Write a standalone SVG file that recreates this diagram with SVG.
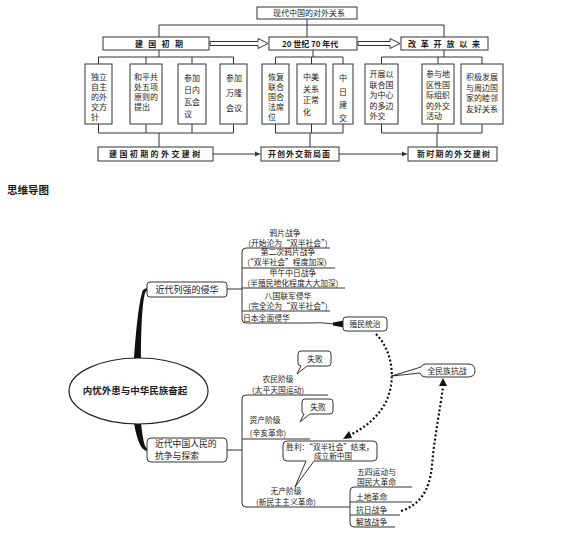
<svg xmlns="http://www.w3.org/2000/svg" width="576" height="550" viewBox="0 0 576 550">
<style>
text{font-family:"Noto Sans CJK SC","Liberation Sans",sans-serif;fill:#1a1a1a;}
.t8{font-size:8px;}
.b8{font-size:8px;font-weight:bold;}
.m{font-size:7.8px;}
.box{fill:#fff;stroke:#333;stroke-width:1;}
.ln{fill:none;stroke:#333;stroke-width:1;}
.dot{fill:none;stroke:#111;stroke-width:2.2;stroke-dasharray:2 2.2;}
.blk{fill:#111;stroke:none;}
</style>
<defs>
<marker id="ah" markerWidth="6" markerHeight="6" refX="5" refY="3" orient="auto" markerUnits="userSpaceOnUse">
<path d="M0,0.5 L5,3 L0,5.5 Z" fill="#333"/>
</marker>
</defs>
<rect width="576" height="550" fill="#fff"/>

<g id="connectors">
<path class="ln" d="M307,19 V25 M159,25 H444 M159,25 V37 M307,25 V37 M444,25 V37"/>
<path class="box" d="M210,41.5 H258 V38.5 L268,43.5 L258,48.5 V45.5 H210 Z"/>
<path class="box" d="M358,41.5 H390 V38.5 L400,43.5 L390,48.5 V45.5 H358 Z"/>
<path class="ln" d="M159,50 V57 M98.5,57 H233.5 M98.5,57 V64 M146,57 V64 M192,57 V64 M233.5,57 V64"/>
<path class="ln" d="M313,50 V57 M275.5,57 H343 M275.5,57 V64 M311.5,57 V64 M343,57 V64"/>
<path class="ln" d="M444,50 V57 M381.5,57 H482 M381.5,57 V64 M438,57 V64 M482,57 V64"/>
<path class="ln" d="M98.5,124 V133 M146,124 V133 M192,124 V133 M233.5,124 V133 M98.5,133 H233.5 M159,133 V147"/>
<path class="ln" d="M275.5,124 V133 M311.5,124 V133 M343,124 V133 M275.5,133 H343 M310,133 V147"/>
<path class="ln" d="M381.5,124 V133 M438,124 V133 M482,124 V133 M381.5,133 H482 M437,133 V147"/>
<path class="ln" d="M213,154 H260" marker-end="url(#ah)"/>
<path class="ln" d="M339,154 H407" marker-end="url(#ah)"/>

<path class="blk" d="M134,359 C136,330 139,300 143,290 Q145,288 148,288 L148,290 Q146,291 145,293 C142,305 141,330 141,359 Z"/>
<path class="blk" d="M134,423 C136,435 139,445 143,449 Q145,451 148,451 L148,449 Q146,448 145,446 C143,440 142,432 141,423 Z"/>

<path class="ln" d="M227,289 H242"/>
<path class="ln" d="M330,248 H246 Q242,248 242,252 V319 Q242,323 246,323 H307"/>
<path class="ln" d="M242,268 H335 M242,288 H345 M242,311 H330"/>
<path class="ln" d="M307,323 Q322,322 334,324"/>
<path class="blk" d="M333,322.5 L344,320.5 L344,327.5 L333,325.5 Z"/>

<path class="ln" d="M227,450 H242"/>
<path class="ln" d="M328,395 H246 Q242,395 242,399 V503 Q242,507 246,507 H350"/>
<path class="ln" d="M242,439 H310"/>
<path class="ln" d="M412,487 H354 Q350,487 350,491 V523 Q350,527 354,527 H395"/>
<path class="ln" d="M350,502 H412 M350,515 H400"/>

<path class="dot" d="M376,334 C394,352 397,385 383,407 C374,421 362,429 350,435"/>
<path class="blk" d="M343,439 L349,431 L352,438 Z"/>
<path class="dot" d="M401,511 C420,505 430,490 432,465 C434,440 440,410 443,387"/>
<path class="blk" d="M443,378 L447,386 L439,386 Z"/>
<path class="ln" d="M391,376 Q405,372 420,370"/>
</g>

<g id="title"><rect class="box" x="257" y="7" width="100" height="12"/><text class="t8" x="273" y="16.3">现代中国的对外关系</text></g>
<g id="p1"><rect class="box" x="103" y="37" width="106" height="13"/><text class="b8" x="135" y="46.5" letter-spacing="5.3">建国初期</text></g>
<g id="p2"><rect class="box" x="269" y="37" width="88" height="13"/><text class="b8" x="282" y="46.5">20 世纪 70 年代</text></g>
<g id="p3"><rect class="box" x="401" y="37" width="87" height="13"/><text class="b8" x="408" y="46.5" letter-spacing="4.8">改革开放以来</text></g>

<g id="a"><rect class="box" x="85" y="64" width="27" height="60"/><text class="t8"><tspan x="91" y="80">独立</tspan><tspan x="91" y="90">自主</tspan><tspan x="91" y="100">的外</tspan><tspan x="91" y="110">交方</tspan><tspan x="91" y="120">针</tspan></text></g>
<g id="b"><rect class="box" x="130" y="64" width="32" height="60"/><text class="t8"><tspan x="134" y="80">和平共</tspan><tspan x="134" y="90">处五项</tspan><tspan x="134" y="100">原则的</tspan><tspan x="134" y="110">提出</tspan></text></g>
<g id="c"><rect class="box" x="178" y="64" width="28" height="60"/><text class="t8"><tspan x="184" y="81">参加</tspan><tspan x="184" y="93">日内</tspan><tspan x="184" y="105">瓦会</tspan><tspan x="184" y="117">议</tspan></text></g>
<g id="d"><rect class="box" x="220" y="64" width="27" height="60"/><text class="t8"><tspan x="226" y="81">参加</tspan><tspan x="226" y="96">万隆</tspan><tspan x="226" y="111">会议</tspan></text></g>
<g id="e"><rect class="box" x="262" y="64" width="27" height="60"/><text class="t8"><tspan x="268" y="80">恢复</tspan><tspan x="268" y="90">联合</tspan><tspan x="268" y="100">国合</tspan><tspan x="268" y="110">法席</tspan><tspan x="268" y="120">位</tspan></text></g>
<g id="f"><rect class="box" x="297" y="64" width="29" height="60"/><text class="t8"><tspan x="303" y="80">中美</tspan><tspan x="303" y="91.5">关系</tspan><tspan x="303" y="103">正常</tspan><tspan x="303" y="114.5">化</tspan></text></g>
<g id="g"><rect class="box" x="333" y="64" width="20" height="60"/><text class="t8"><tspan x="339" y="81">中</tspan><tspan x="339" y="94.5">日</tspan><tspan x="339" y="108">建</tspan><tspan x="339" y="121">交</tspan></text></g>
<g id="h"><rect class="box" x="365" y="64" width="33" height="60"/><text class="t8"><tspan x="369.5" y="77">开展以</tspan><tspan x="369.5" y="87.5">联合国</tspan><tspan x="369.5" y="98">为中心</tspan><tspan x="369.5" y="108.5">的多边</tspan><tspan x="369.5" y="119">外交</tspan></text></g>
<g id="i"><rect class="box" x="422" y="64" width="32" height="60"/><text class="t8"><tspan x="426" y="77">参与地</tspan><tspan x="426" y="87.5">区性国</tspan><tspan x="426" y="98">际组织</tspan><tspan x="426" y="108.5">的外交</tspan><tspan x="426" y="119">活动</tspan></text></g>
<g id="j"><rect class="box" x="461" y="64" width="42" height="60"/><text class="t8"><tspan x="466" y="80">积极发展</tspan><tspan x="466" y="90.5">与周边国</tspan><tspan x="466" y="101">家的睦邻</tspan><tspan x="466" y="111.5">友好关系</tspan></text></g>

<g id="r1"><rect class="box" x="98" y="147" width="115" height="14"/><text class="b8" x="109" y="157" letter-spacing="2.4">建国初期的外交建树</text></g>
<g id="r2"><rect class="box" x="261" y="147" width="78" height="14"/><text class="b8" x="268" y="157" letter-spacing="1">开创外交新局面</text></g>
<g id="r3"><rect class="box" x="408" y="147" width="89" height="14"/><text class="b8" x="417" y="157" letter-spacing="1.3">新时期的外交建树</text></g>

<text x="7" y="194" style="font-size:10.5px;font-weight:bold">思维导图</text>

<g id="root"><ellipse cx="138.5" cy="391" rx="69.5" ry="33" fill="#fff" stroke="#222" stroke-width="1.2"/><text x="135" y="394" text-anchor="middle" style="font-size:9.5px;font-weight:bold">内忧外患与中华民族奋起</text></g>
<g id="n1"><rect class="box" x="147" y="282" width="80" height="15" rx="3" stroke-width="1.2"/><text x="187" y="292.5" text-anchor="middle" style="font-size:9px">近代列强的侵华</text></g>
<g id="n2"><rect class="box" x="147" y="438" width="80" height="24" rx="4" stroke-width="1.2"/><text style="font-size:8.8px"><tspan x="155" y="447">近代中国人民的</tspan><tspan x="155" y="459">抗争与探索</tspan></text></g>

<g id="upper-items">
<text class="m" x="285" y="235.5" text-anchor="middle">鸦片战争</text>
<text class="m" x="288" y="245.5" text-anchor="middle">(开始沦为“双半社会”)</text>
<text class="m" x="288" y="255" text-anchor="middle">第二次鸦片战争</text>
<text class="m" x="287" y="265" text-anchor="middle">(“双半社会”程度加深)</text>
<text class="m" x="293" y="275.5" text-anchor="middle">甲午中日战争</text>
<text class="m" x="293" y="286" text-anchor="middle">(半殖民地化程度大大加深)</text>
<text class="m" x="288" y="298.5" text-anchor="middle">八国联军侵华</text>
<text class="m" x="288" y="309" text-anchor="middle">(完全沦为“双半社会”)</text>
<text class="m" x="243" y="321">日本全面侵华</text>
</g>

<g id="colonial"><rect class="box" x="343" y="317" width="44" height="14" rx="3"/><text class="m" x="365" y="327" text-anchor="middle">殖民统治</text></g>
<g id="allwar"><path class="box" d="M426,364 H468 Q475,364 475,370.5 Q475,377 468,377 H426 Q421,377 420,373 L392,376 L421,367 Q422,364 426,364 Z"/><text class="m" x="447" y="373.5" text-anchor="middle">全民族抗战</text></g>

<g id="lower-items">
<text class="m" x="278" y="382" text-anchor="middle">农民阶级</text>
<text class="m" x="278" y="392.5" text-anchor="middle">(太平天国运动)</text>
<text class="m" x="265" y="423" text-anchor="middle">资产阶级</text>
<text class="m" x="268" y="436" text-anchor="middle">(辛亥革命)</text>
<text class="m" x="286" y="494" text-anchor="middle">无产阶级</text>
<text class="m" x="286" y="504.5" text-anchor="middle">(新民主主义革命)</text>
<text class="m" x="357" y="475">五四运动与</text>
<text class="m" x="357" y="485">国民大革命</text>
<text class="m" x="356" y="499.5">土地革命</text>
<text class="m" x="356" y="513">抗日战争</text>
<text class="m" x="356" y="525">解放战争</text>
</g>

<g id="fail1"><path class="box" d="M301,351 H328 Q331,351 331,354 V363 Q331,366 328,366 H307 L297,374 L301,366 Q298,366 298,363 V354 Q298,351 301,351 Z"/><text class="m" x="315" y="361.5" text-anchor="middle">失败</text></g>
<g id="fail2"><path class="box" d="M305,399 H330 Q333,399 333,402 V411 Q333,414 330,414 H310 L300,422 L304,414 Q302,414 302,411 V402 Q302,399 305,399 Z"/><text class="m" x="318" y="409.5" text-anchor="middle">失败</text></g>
<g id="victory"><path class="box" d="M287,441 H373 Q377,441 377,445 V457 Q377,461 373,461 H314 L295,487 L306,461 H287 Q283,461 283,457 V445 Q283,441 287,441 Z"/><text x="330" y="449.5" text-anchor="middle" style="font-size:7.6px">胜利：“双半社会”结束，</text><text x="333" y="459" text-anchor="middle" style="font-size:7.6px">成立新中国</text></g>
</svg>
